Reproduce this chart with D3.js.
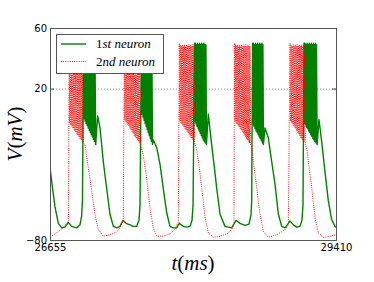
<!DOCTYPE html>
<html>
<head>
<meta charset="utf-8">
<script src="https://cdn.jsdelivr.net/npm/d3@7"></script>
<style>
  body { margin: 0; background: #fff; }
  svg { display: block; }
</style>
</head>
<body>
<div id="chart"></div>
<script>
// time window (ms) and membrane potential range (mV)
const tDomain = [26655, 29410];
const vDomain = [-80, 60];
const xTicks = [26655, 29410];
const yTicks = [60, 20, -80];
const legendLabels = [["1", "st neuron"], ["2", "nd neuron"]];

// 1st neuron, [t (ms), V (mV)]
const neuron1 = [
    [26655,-32],[26680,-46],[26703,-58],[26735,-69],[26768,-72],[26799,-71.5],[26831,-68.5],[26864,-71],[26912,-72],[26944,-70],[26960,-64],[26968,-53],
    // burst 1
    [26978,50],[26983,0],[26988,50],[26993,-1.5],[26998,49],[27003,-3],[27008,50],[27013,-4.5],[27018,49],[27023,-6],[27028,50],[27033,-7.5],
    [27038,49],[27043,-9],[27048,50],[27053,-10.5],[27058,49],[27063,-12],[27068,50],[27073,-13.5],[27078,49],[27083,-15],[27088,49],[27095,-17],
    [27114,2],[27137,-6],[27168,-28],[27201,-46],[27233,-63],[27265,-71],[27297,-72],
    [27329,-71],[27358,-67],[27387,-69],[27426,-70],[27455,-71],[27490,-71],[27512,-67],[27522,-57],
    // burst 2
    [27536,50],[27541,3],[27546,50],[27551,1],[27556,49],[27561,-1],[27566,50],[27571,-3],[27576,49],[27581,-5],[27586,50],[27591,-7],
    [27596,49],[27601,-9],[27606,50],[27611,-11],[27616,49],[27621,-13],[27626,50],[27631,-15],[27636,49],[27642,-17],
    [27650,-14],[27683,-19],[27715,-30],[27746,-46],[27779,-62],[27811,-71],[27843,-72],[27875,-72],
    [27900,-69],[27940,-71],[27972,-71.5],[28004,-71],[28023,-67],[28033,-57],
    // burst 3
    [28047,50],[28052,-2],[28057,50],[28062,-3.5],[28067,49],[28072,-5],[28077,50],[28082,-6.5],[28087,49],[28092,-8],[28097,50],[28102,-9.5],
    [28107,49],[28112,-11],[28117,50],[28122,-12.5],[28127,49],[28132,-14],[28137,50],[28142,-15],[28147,49],[28152,-16],[28157,49],[28162,-17],
    [28180,3],[28212,-17],[28240,-33],[28261,-46],[28293,-63],[28341,-71],[28405,-72],
    [28447,-67],[28485,-69],[28533,-70.3],[28572,-69.5],[28591,-63.5],[28598,-54],
    // burst 4
    [28606,50],[28611,-4],[28616,50],[28621,-5],[28626,49],[28631,-6.5],[28636,50],[28641,-8],[28646,49],[28651,-9],[28656,50],[28661,-10.5],
    [28666,49],[28671,-12],[28676,50],[28681,-13],[28686,49],[28691,-14.5],[28696,50],[28701,-16],[28706,49],[28711,-17],
    [28726,-6],[28758,-12.5],[28790,-28],[28823,-43.5],[28855,-63],[28887,-71],[28919,-72],
    [28967,-67.5],[29000,-70],[29031,-71.5],[29063,-71],[29082,-67],[29092,-57],
    // burst 5
    [29102,50],[29107,-3],[29112,50],[29117,-4],[29122,49],[29127,-5.5],[29132,50],[29137,-6.5],[29142,49],[29147,-8],[29152,50],[29157,-9],
    [29162,49],[29167,-10.5],[29172,50],[29177,-11.5],[29182,49],[29187,-13],[29192,50],[29197,-14],[29202,49],[29207,-15],[29212,50],[29217,-16],
    [29222,49],[29228,-17],
    [29246,-0.5],[29272,-15],[29304,-35],[29336,-54],[29368,-66.5],[29400,-71],[29410,-71.5]
];

// 2nd neuron
const neuron2 = [
    [26655,-78],[26687,-76.7],[26735,-74.5],[26783,-71.6],[26816,-69],[26833,-67.5],
    // burst 1
    [26840,50],[26845,-3],[26850,49],[26855,-4],[26860,48],[26865,-5],[26870,49],[26875,-6],[26880,48],[26885,-7],[26890,49],[26895,-8],
    [26900,48],[26905,-9],[26910,49],[26915,-10],[26920,48],[26925,-11],[26930,49],[26935,-12],[26940,48],[26945,-13],[26950,49],[26955,-14],
    [26960,48],[26965,-15],[26970,48],[26976,-16],
    [26992,-17],[27024,-32.5],[27057,-47.5],[27088,-63],[27120,-73],[27168,-77.5],[27233,-76.5],[27297,-74.8],[27329,-72],[27361,-67],
    // burst 2
    [27371,50],[27376,-1],[27381,49],[27386,-2],[27391,48],[27396,-3],[27401,49],[27406,-4],[27411,48],[27416,-5],[27421,49],[27426,-6.5],
    [27431,48],[27436,-7.5],[27441,49],[27446,-8.5],[27451,48],[27456,-9.5],[27461,49],[27466,-11],[27471,48],[27476,-12],[27481,49],[27486,-13],
    [27491,48],[27496,-14],[27501,49],[27506,-15],[27511,48],[27516,-16],[27521,48],[27527,-17],
    [27554,-24],[27586,-39],[27618,-59],[27650,-72],[27683,-77.5],[27746,-77.5],[27811,-76],[27859,-72.7],[27891,-68],
    // burst 3
    [27901,50],[27906,-1.5],[27911,49],[27916,-2.5],[27921,48],[27926,-3.5],[27931,49],[27936,-4.5],[27941,48],[27946,-5.5],[27951,49],[27956,-6.5],
    [27961,48],[27966,-7.5],[27971,49],[27976,-8.5],[27981,48],[27986,-9.5],[27991,49],[27996,-10.5],[28001,48],[28006,-11.5],[28011,49],[28016,-12.5],
    [28021,48],[28026,-13.5],[28031,49],[28036,-14.5],[28041,48],[28047,-16],
    [28060,-18],[28085,-28],[28117,-45.5],[28149,-65.5],[28181,-75.4],[28229,-78.2],[28293,-77.6],[28373,-75.4],[28408,-72.7],[28427,-68.8],
    // burst 4
    [28432,50],[28437,-1.5],[28442,49],[28447,-2.5],[28452,48],[28457,-3.5],[28462,49],[28467,-4.5],[28472,48],[28477,-5.5],[28482,49],[28487,-6.5],
    [28492,48],[28497,-7.5],[28502,49],[28507,-8.5],[28512,48],[28517,-9.5],[28522,49],[28527,-11],[28532,48],[28537,-12],[28542,49],[28547,-13],
    [28552,48],[28557,-14],[28562,49],[28567,-15],[28572,48],[28577,-16],[28582,48],[28588,-17],
    [28600,-19],[28613,-28],[28646,-45.5],[28678,-63],[28710,-74.3],[28758,-78.2],[28839,-76.5],[28919,-73.2],[28951,-70],
    // burst 5
    [28967,50],[28972,-1.5],[28977,49],[28982,-2.5],[28987,48],[28992,-3.5],[28997,49],[29002,-4.5],[29007,48],[29012,-5.5],[29017,49],[29022,-6.5],
    [29027,48],[29032,-8],[29037,49],[29042,-9],[29047,48],[29052,-10],[29057,49],[29062,-11.5],[29067,48],[29072,-12.5],[29077,49],[29082,-13.5],
    [29087,48],[29092,-14.5],[29097,49],[29102,-15.5],[29107,48],[29115,-17],
    [29130,-20],[29143,-28],[29176,-45.5],[29208,-65.5],[29240,-75.4],[29288,-78.2],[29352,-77.6],[29410,-76.4]
];

const W = 374, H = 282;
const margin = { top: 28, right: 38, bottom: 42, left: 50 };
const width = W - margin.left - margin.right;
const height = H - margin.top - margin.bottom;

const svg = d3.select("#chart").append("svg")
    .attr("width", W)
    .attr("height", H);

const g = svg.append("g")
    .attr("transform", `translate(${margin.left},${margin.top})`);

const x = d3.scaleLinear().domain(tDomain).range([0, width]);
const y = d3.scaleLinear().domain(vDomain).range([height, 0]);

// grid lines on the y ticks
g.append("g")
    .selectAll("line")
    .data(yTicks)
    .join("line")
    .attr("x1", 0)
    .attr("x2", width)
    .attr("y1", d => y(d) + 0.5)
    .attr("y2", d => y(d) + 0.5)
    .attr("stroke", "#8c8c8c")
    .attr("stroke-width", 1)
    .attr("stroke-dasharray", "1,2");

const clip = svg.append("defs").append("clipPath").attr("id", "plot-clip");
clip.append("rect").attr("width", width).attr("height", height);

const line = d3.line()
    .x(d => x(d[0]))
    .y(d => y(d[1]));

const traces = g.append("g").attr("clip-path", "url(#plot-clip)");

const redStyle = { color: "#ff0000", width: 1, dash: "1,1.2", opacity: 0.9 };
const greenStyle = { color: "#008000", width: 1.4, dash: null, opacity: 1 };

traces.append("path")
    .datum(neuron1)
    .attr("fill", "none")
    .attr("stroke", greenStyle.color)
    .attr("stroke-width", greenStyle.width)
    .attr("stroke-linejoin", "round")
    .attr("d", line);

traces.append("path")
    .datum(neuron2)
    .attr("fill", "none")
    .attr("stroke", redStyle.color)
    .attr("stroke-width", redStyle.width)
    .attr("stroke-opacity", redStyle.opacity)
    .attr("stroke-dasharray", redStyle.dash)
    .attr("d", line);

// axes, ticks pointing inwards
const axisFont = "DejaVu Sans, sans-serif";

const yAxis = g.append("g")
    .call(d3.axisLeft(y).tickValues(yTicks).tickSizeInner(-4).tickSizeOuter(0).tickPadding(3).tickFormat(d3.format("d")));
const xAxis = g.append("g")
    .attr("transform", `translate(0,${height})`)
    .call(d3.axisBottom(x).tickValues(xTicks).tickSizeInner(-4).tickSizeOuter(0).tickPadding(4).tickFormat(d3.format("d")));
g.append("g")
    .attr("transform", `translate(${width},0)`)
    .call(d3.axisRight(y).tickValues(yTicks).tickSizeInner(-4).tickSizeOuter(0).tickFormat(""));
g.append("g")
    .call(d3.axisTop(x).tickValues(xTicks).tickSizeInner(-4).tickSizeOuter(0).tickFormat(""));

g.selectAll(".domain").remove();
g.selectAll(".tick line").attr("stroke", "#444");
[yAxis, xAxis].forEach(a => a.selectAll("text")
    .attr("font-family", axisFont)
    .attr("font-size", "10px")
    .attr("fill", "#000"));

// frame
g.append("rect")
    .attr("x", 0.5)
    .attr("y", 0.5)
    .attr("width", width)
    .attr("height", height)
    .attr("fill", "none")
    .attr("stroke", "#555")
    .attr("stroke-width", 1);

// legend
const serif = "Liberation Serif, Times New Roman, serif";
const legend = g.append("g").attr("transform", "translate(6,6)");
legend.append("rect")
    .attr("x", 0.5)
    .attr("y", 0.5)
    .attr("width", 107)
    .attr("height", 39)
    .attr("fill", "#fff")
    .attr("stroke", "#555");

const legendStyles = [greenStyle, redStyle];

legendLabels.forEach((lab, i) => {
    const ly = 10 + i * 17.6;
    const st = legendStyles[i];
    legend.append("line")
        .attr("x1", 5)
        .attr("x2", 30)
        .attr("y1", ly)
        .attr("y2", ly)
        .attr("stroke", st.color)
        .attr("stroke-width", st.width)
        .attr("stroke-opacity", st.opacity)
        .attr("stroke-dasharray", st.dash);
    const t = legend.append("text")
        .attr("x", 40)
        .attr("y", ly + 4)
        .attr("font-family", serif)
        .attr("font-size", "13px");
    t.append("tspan").text(lab[0]);
    t.append("tspan").attr("font-style", "italic").text(lab[1]);
});

// axis titles
const xt = svg.append("text")
    .attr("x", margin.left + width / 2)
    .attr("y", 270)
    .attr("text-anchor", "middle")
    .attr("font-family", serif)
    .attr("font-size", "21px");
xt.append("tspan").attr("font-style", "italic").text("t");
xt.append("tspan").text("(");
xt.append("tspan").attr("font-style", "italic").text("ms");
xt.append("tspan").text(")");

const yt = svg.append("text")
    .attr("transform", `translate(22,${margin.top + height / 2}) rotate(-90)`)
    .attr("text-anchor", "middle")
    .attr("font-family", serif)
    .attr("font-size", "21px");
yt.append("tspan").attr("font-style", "italic").text("V");
yt.append("tspan").text("(");
yt.append("tspan").attr("font-style", "italic").text("mV");
yt.append("tspan").text(")");
</script>
</body>
</html>
